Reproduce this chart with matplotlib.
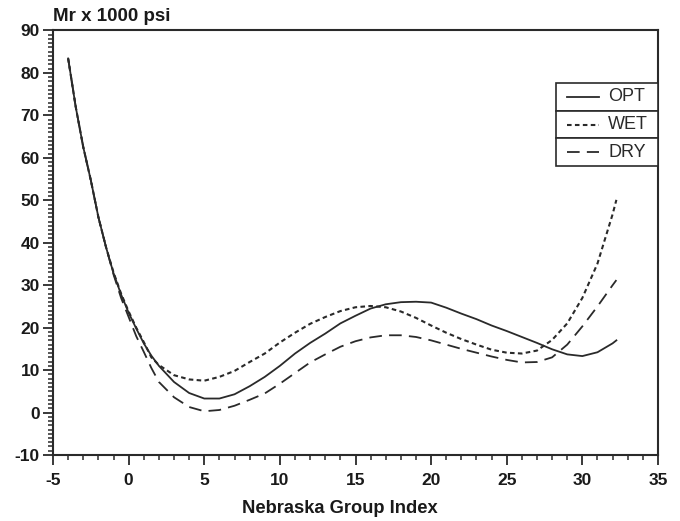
import matplotlib
matplotlib.use("Agg")
import matplotlib.pyplot as plt
from matplotlib.ticker import MultipleLocator
from matplotlib.lines import Line2D
from matplotlib.patches import Rectangle

# Data
x_vals = [-4, -3.5, -3, -2.5, -2, -1.5, -1, -0.5, 0, 0.5, 1, 1.5, 2, 3, 4, 5, 6, 7, 8, 9,
          10, 11, 12, 13, 14, 15, 16, 17, 18, 19, 20, 21, 22, 23, 24, 25, 26, 27, 28,
          29, 30, 31, 32, 32.25]
opt_vals = [83.4, 72.0, 62.5, 54.7, 46.0, 39.0, 32.8, 27.8, 23.5, 19.8, 16.3, 13.4, 11.0,
            7.2, 4.6, 3.3, 3.3, 4.3, 6.2, 8.4, 11.0, 13.9, 16.4, 18.6, 21.0, 22.8, 24.5,
            25.5, 26.0, 26.1, 25.9, 24.7, 23.3, 22.0, 20.5, 19.2, 17.8, 16.4, 14.9, 13.7,
            13.3, 14.2, 16.3, 17.0]
wet_vals = [83.4, 72.0, 62.5, 54.7, 46.0, 39.0, 33.0, 28.0, 23.8, 20.0, 16.6, 13.0, 11.2,
            8.8, 7.8, 7.5, 8.4, 9.8, 11.9, 13.9, 16.5, 18.8, 20.9, 22.5, 23.9, 24.8, 25.1,
            24.8, 23.8, 22.3, 20.5, 18.8, 17.3, 16.0, 14.8, 14.1, 13.9, 14.6, 17.1, 21.0,
            27.0, 35.1, 46.7, 50.1]
dry_vals = [83.4, 72.0, 62.5, 54.7, 46.0, 39.0, 32.5, 27.0, 22.5, 18.0, 14.3, 10.5, 7.2,
            3.6, 1.3, 0.3, 0.6, 1.6, 3.0, 4.5, 6.8, 9.3, 11.8, 13.7, 15.5, 16.8, 17.7, 18.2,
            18.2, 17.8, 17.0, 16.0, 15.0, 14.1, 13.2, 12.4, 11.8, 11.9, 13.0, 16.0, 20.3,
            25.0, 30.0, 31.2]
series_names = ["OPT", "WET", "DRY"]

x_ticks = [-5, 0, 5, 10, 15, 20, 25, 30, 35]
y_ticks = [-10, 0, 10, 20, 30, 40, 50, 60, 70, 80, 90]

col = "#2a2a2a"
plt.rcParams["font.family"] = ["Liberation Sans", "DejaVu Sans"]
plt.rcParams["axes.unicode_minus"] = False

fig = plt.figure(figsize=(6.8, 5.21), dpi=100)
ax = fig.add_axes([0.078, 0.1267, 0.8896, 0.8148])

styles = {
    "OPT": dict(linestyle="-", linewidth=1.3),
    "WET": dict(linestyle=(0, (2.2, 1.6)), linewidth=1.5),
    "DRY": dict(linestyle=(0, (7, 4)), linewidth=1.3),
}
data = {"OPT": opt_vals, "WET": wet_vals, "DRY": dry_vals}
for name in series_names:
    ax.plot(x_vals, data[name], color=col, **styles[name])

ax.set_xlim(-5, 35)
ax.set_ylim(-10, 90)
ax.set_xticks(x_ticks)
ax.set_yticks(y_ticks)
ax.xaxis.set_minor_locator(MultipleLocator(1))
ax.yaxis.set_minor_locator(MultipleLocator(1))
ax.tick_params(which="major", direction="out", length=7, width=1.3, color=col,
               labelsize=12.5)
ax.tick_params(axis="x", which="major", pad=6)
ax.tick_params(axis="y", which="major", pad=2.5)
ax.tick_params(which="minor", direction="out", length=3.5, width=1.1, color=col)
for lab in ax.get_xticklabels() + ax.get_yticklabels():
    lab.set_fontweight("bold")
    lab.set_color("#1a1a1a")
for s in ax.spines.values():
    s.set_linewidth(1.5)
    s.set_color(col)

fig.text(339.5 / 680, 1 - 513 / 521, "Nebraska Group Index", fontsize=13.2,
         fontweight="bold", ha="center", va="baseline", color="#1a1a1a")
fig.text(0.078, 0.952, "Mr x 1000 psi", fontsize=13.5, fontweight="bold", ha="left",
         va="bottom", color="#1a1a1a")

# Table-like legend
lx0, lx1 = 0.831, 1.0
ly_top = 0.876
row_h = 0.065
for i, name in enumerate(series_names):
    y_top = ly_top - i * row_h
    ax.add_patch(Rectangle((lx0, y_top - row_h), lx1 - lx0, row_h, transform=ax.transAxes,
                           facecolor="white", edgecolor=col, linewidth=1.2, zorder=5))
    yc = y_top - row_h / 2
    ax.add_line(Line2D([lx0 + 0.018, lx0 + 0.072], [yc, yc], transform=ax.transAxes,
                       color=col, zorder=6, **styles[name]))
    ax.text(lx0 + 0.087, yc, name, transform=ax.transAxes, fontsize=13, va="center",
            ha="left", color=col, zorder=6)

fig.savefig("out.png", dpi=100)
